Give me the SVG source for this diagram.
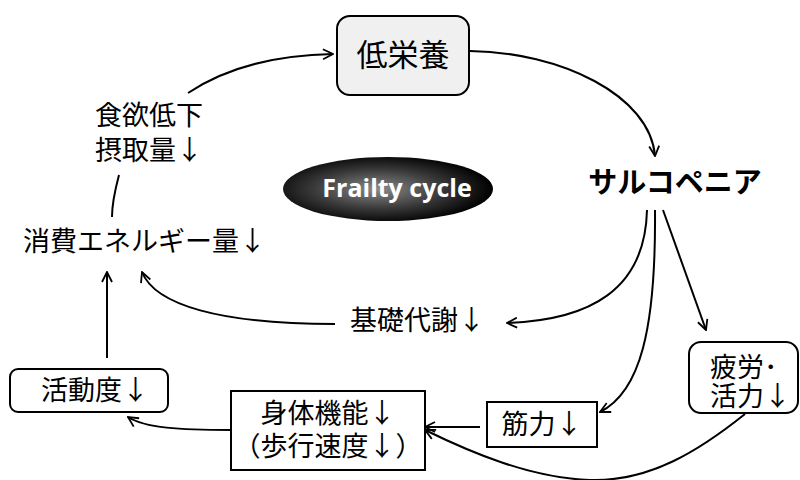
<svg xmlns="http://www.w3.org/2000/svg" width="800" height="480" viewBox="0 0 800 480">
<defs>
<style>
.t{font-family:"Noto Sans CJK JP","Noto Sans",sans-serif;font-size:27px;fill:#000}
.box{fill:#fff;stroke:#000;stroke-width:2}
.c{fill:none;stroke:#000;stroke-width:2}
.a{marker-end:url(#ah)}
</style>
<marker id="ah" viewBox="0 0 12 12" refX="11" refY="6" markerWidth="6" markerHeight="6" markerUnits="strokeWidth" orient="auto">
<path d="M1,1 L11,6 L1,11" fill="none" stroke="#000" stroke-width="1.8"/>
</marker>
<radialGradient id="eg" cx="0.45" cy="0.5" r="0.55">
<stop offset="0" stop-color="#8a8a8a"/>
<stop offset="0.55" stop-color="#3a3a3a"/>
<stop offset="1" stop-color="#000"/>
</radialGradient>
</defs>
<rect width="800" height="480" fill="#fff"/>

<g id="connectors">
<path class="c a" d="M188,93 C230,65 280,55 333,54"/>
<path class="c a" d="M470,51 C560,52 650,95 655,156"/>
<path class="c" d="M119,175 C115,190 112,205 112,217"/>
<path class="c a" d="M647,210 C645,290 590,320 507,323"/>
<path class="c a" d="M655,210 C656,330 640,392 600,412"/>
<path class="c a" d="M663,210 L706,330"/>
<path class="c a" d="M335,324 C220,324 155,305 142,272"/>
<path class="c a" d="M107,358 L107,272"/>
<path class="c a" d="M480,427 L425,427"/>
<path class="c a" d="M745,414 C700,450 650,482 590,480 C530,478 470,452 425,430"/>
<path class="c a" d="M231,430 C180,430 145,428 128,417"/>
</g>

<g id="malnutrition">
<rect x="337" y="16" width="132" height="79" rx="13" fill="#f0f0f0" stroke="#000" stroke-width="2"/>
<text class="t" x="403" y="66" text-anchor="middle" style="font-size:31px">低栄養</text>
</g>

<g id="sarcopenia">
<text class="t" x="675" y="193" text-anchor="middle" style="font-size:29px;font-weight:bold">サルコペニア</text>
</g>

<g id="frailty">
<ellipse cx="388" cy="189" rx="105" ry="32" fill="url(#eg)"/>
<text x="397" y="197" text-anchor="middle" font-family="'Open Sans','Liberation Sans',sans-serif" font-weight="bold" font-size="25" fill="#fff">Frailty cycle</text>
</g>

<g id="appetite">
<text class="t" x="95" y="125">食欲低下</text>
<text class="t" x="95" y="160">摂取量↓</text>
</g>

<g id="energy">
<text class="t" x="23" y="251">消費エネルギー量↓</text>
</g>

<g id="bmr">
<text class="t" x="350" y="330">基礎代謝↓</text>
</g>

<g id="fatigue">
<rect class="box" x="689" y="342" width="109" height="71" rx="12"/>
<text class="t" x="710" y="377">疲労･</text>
<text class="t" x="710" y="406">活力↓</text>
</g>

<g id="strength">
<rect class="box" x="487" y="402" width="110" height="45"/>
<text class="t" x="542" y="434" text-anchor="middle">筋力↓</text>
</g>

<g id="physical">
<rect class="box" x="231" y="391" width="194" height="79"/>
<text class="t" x="328" y="423" text-anchor="middle">身体機能↓</text>
<text class="t" x="328" y="456" text-anchor="middle">（歩行速度↓）</text>
</g>

<g id="activity">
<rect class="box" x="10" y="369" width="158" height="43" rx="8"/>
<text class="t" x="95" y="400" text-anchor="middle">活動度↓</text>
</g>
</svg>
